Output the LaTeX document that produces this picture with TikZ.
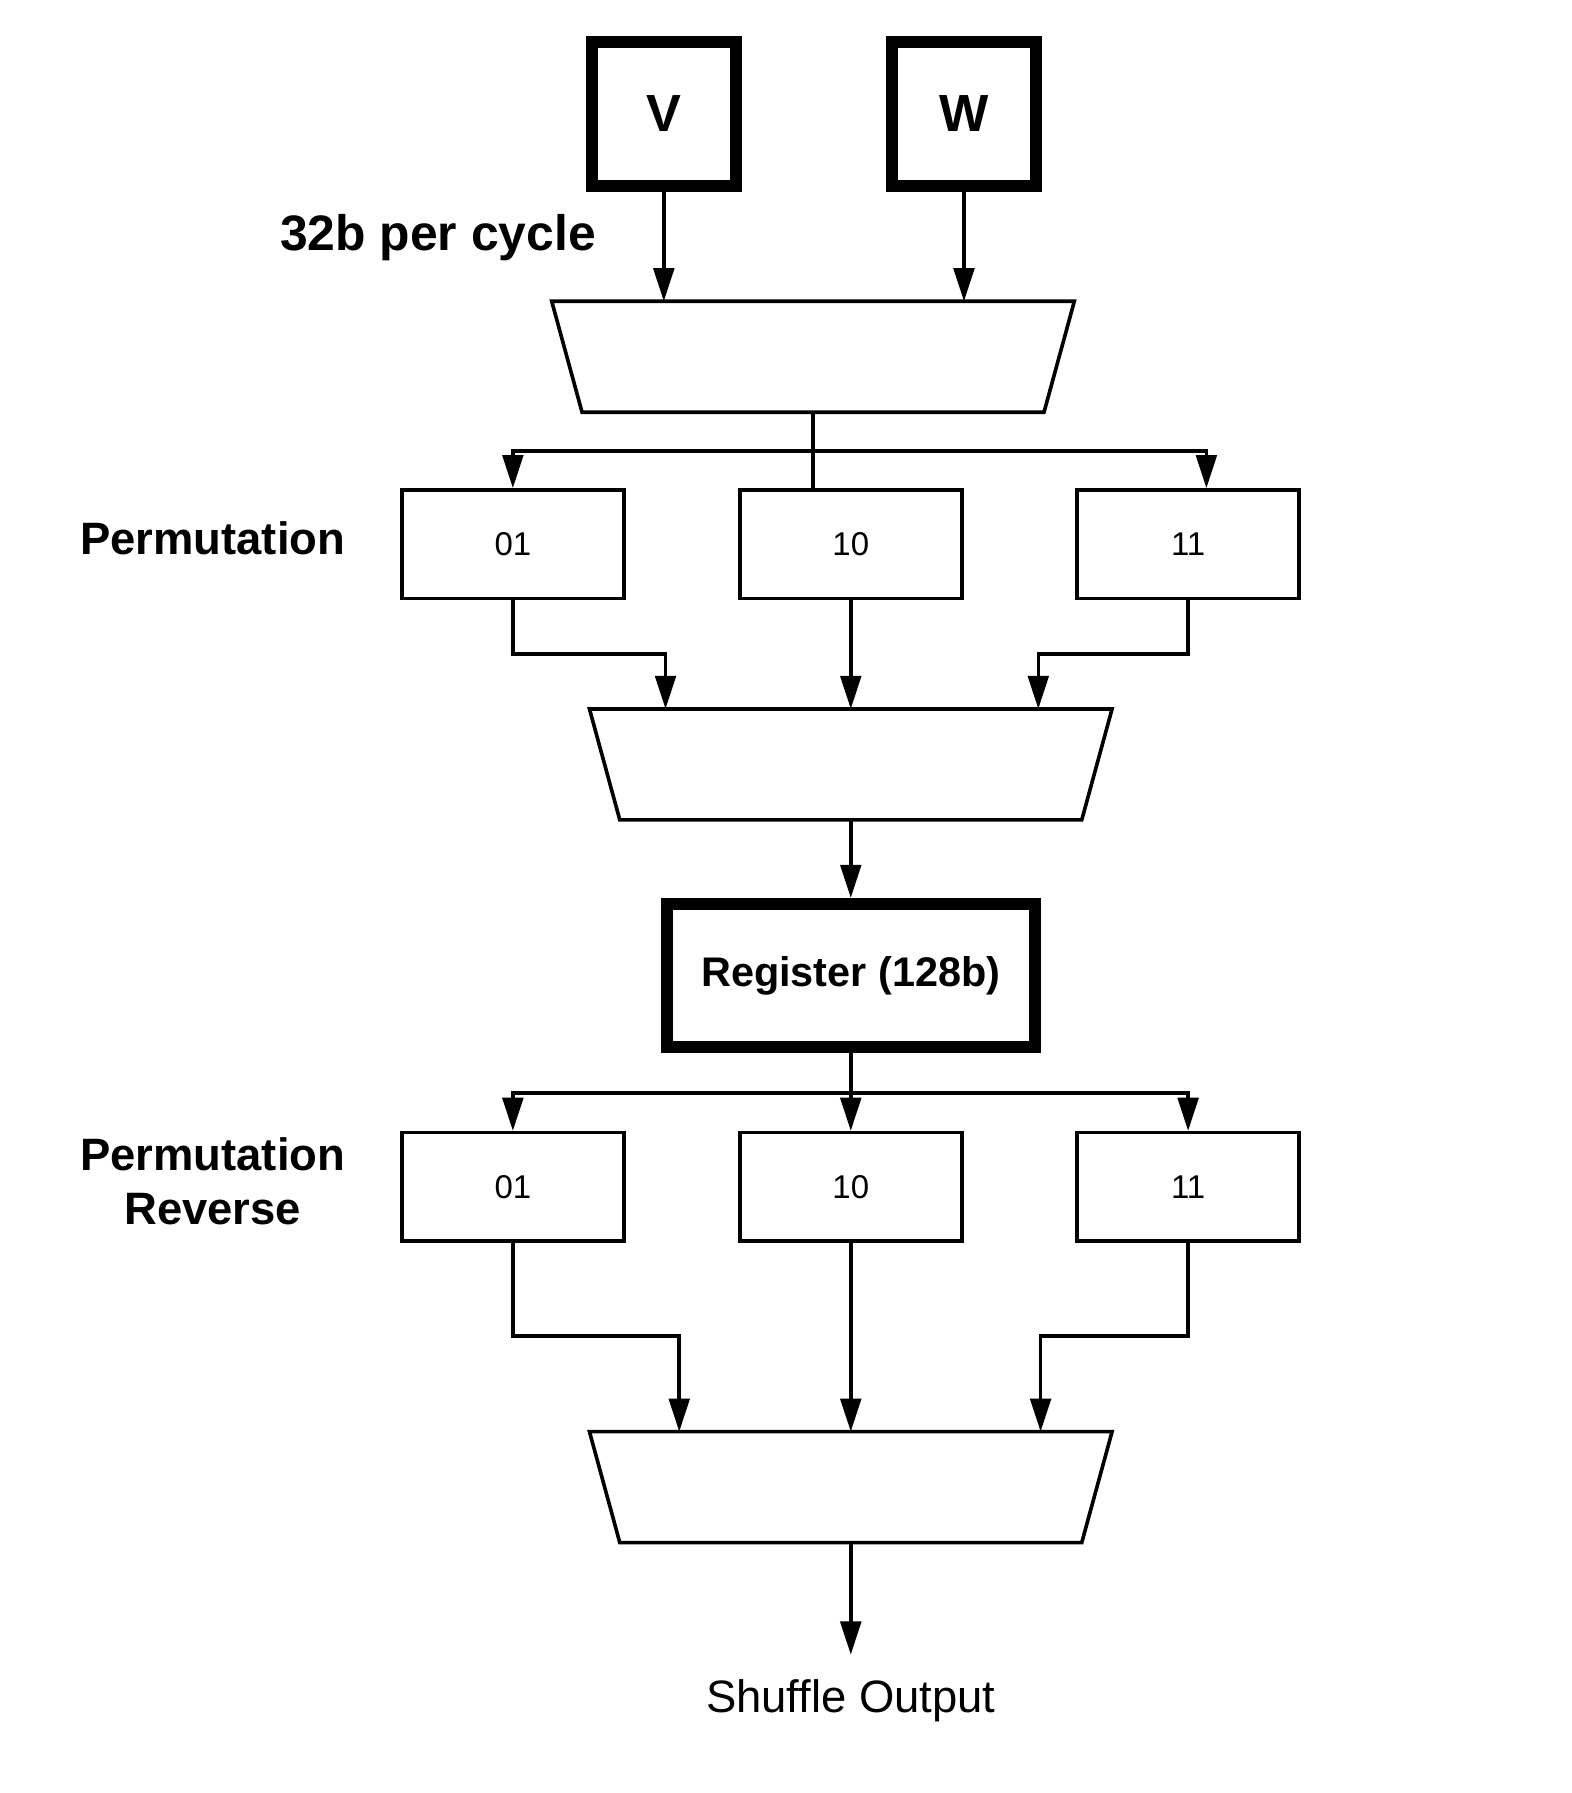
\documentclass[tikz,border=0pt]{standalone}
\usepackage{fontspec}
\setmainfont{Liberation Sans}
\usepackage{tikz}
\usetikzlibrary{arrows.meta}

\newcommand\muxdraw[1]{\draw[wire,line join=miter] (#1.north west) -- (#1.north east)
    -- ([xshift=-0.265cm]#1.south east) -- ([xshift=0.265cm]#1.south west) -- cycle;}

\begin{document}
\begin{tikzpicture}[
    wire/.style={line width=0.9pt},
    arr/.style={wire,-{Triangle[length=0.29cm,width=0.18cm]}},
    permbox/.style={draw,line width=0.9pt,minimum width=1.94cm,minimum height=0.95cm,inner sep=0pt,font=\fontsize{8.2}{10}\selectfont},
    regbox/.style={draw,line width=3pt,inner sep=0pt,font=\bfseries},
    muxbox/.style={minimum width=4.57cm,minimum height=0.97cm,inner sep=0pt,outer sep=0pt},
    lbl/.style={font=\fontsize{11.3}{13.5}\selectfont\bfseries,align=center}
]
    \useasboundingbox (0,0) rectangle (13.74,-15.68);

    \node[regbox,minimum width=1.26cm,minimum height=1.26cm,font=\fontsize{13}{15}\selectfont\bfseries] (V) at (5.805,-0.995) {V};
    \node[regbox,minimum width=1.26cm,minimum height=1.26cm,font=\fontsize{13}{15}\selectfont\bfseries] (W) at (8.43,-0.995) {W};
    \node[lbl,font=\fontsize{12.4}{14}\selectfont\bfseries] (rate) at (3.83,-2.08) {32b per cycle};

    \node[muxbox] (mux1) at (7.11,-3.12) {};
    \muxdraw{mux1}

    \node[permbox] (p01) at (4.485,-4.76) {01};
    \node[permbox] (p10) at (7.44,-4.76) {10};
    \node[permbox] (p11) at (10.39,-4.76) {11};
    \node[lbl] (perm) at (1.86,-4.71) {Permutation};

    \node[muxbox] (mux2) at (7.44,-6.685) {};
    \muxdraw{mux2}

    \node[regbox,minimum width=3.22cm,minimum height=1.25cm,font=\fontsize{10.3}{12}\selectfont\bfseries] (reg) at (7.44,-8.53) {Register (128b)};

    \node[permbox] (q01) at (4.485,-10.38) {01};
    \node[permbox] (q10) at (7.44,-10.38) {10};
    \node[permbox] (q11) at (10.39,-10.38) {11};
    \node[lbl] (permrev) at (1.86,-10.33) {Permutation\\Reverse};

    \node[muxbox] (mux3) at (7.44,-13.005) {};
    \muxdraw{mux3}

    \coordinate (outend) at (7.44,-14.47);
    \node[font=\fontsize{11.3}{13.5}\selectfont] (out) at (7.44,-14.87) {Shuffle Output};

    \draw[arr] (V.south) -- (V.south |- mux1.north);
    \draw[arr] (W.south) -- (W.south |- mux1.north);

    \draw[wire] (mux1.south) -- (mux1.south |- p10.north);
    \draw[wire] (mux1.south) -- ++(0,-0.34) coordinate (s1);
    \draw[arr] (s1) -| (p01.north);
    \draw[arr] (s1) -| ([xshift=0.16cm]p11.north);

    \draw[arr] (p01.south) -- ++(0,-0.47) -| ([xshift=-1.62cm]mux2.north);
    \draw[arr] (p10.south) -- (p10.south |- mux2.north);
    \draw[arr] (p11.south) -- ++(0,-0.47) -| ([xshift=1.64cm]mux2.north);

    \draw[arr] (mux2.south) -- (reg.north);

    \draw[wire] (reg.south) -- ++(0,-0.35) coordinate (s2);
    \draw[arr] (s2) -| (q01.north);
    \draw[arr] (s2) -- (q10.north);
    \draw[arr] (s2) -| (q11.north);

    \draw[arr] (q01.south) -- ++(0,-0.81) -| ([xshift=-1.50cm]mux3.north);
    \draw[arr] (q10.south) -- (q10.south |- mux3.north);
    \draw[arr] (q11.south) -- ++(0,-0.81) -| ([xshift=1.66cm]mux3.north);

    \draw[arr] (mux3.south) -- (outend);
\end{tikzpicture}
\end{document}
